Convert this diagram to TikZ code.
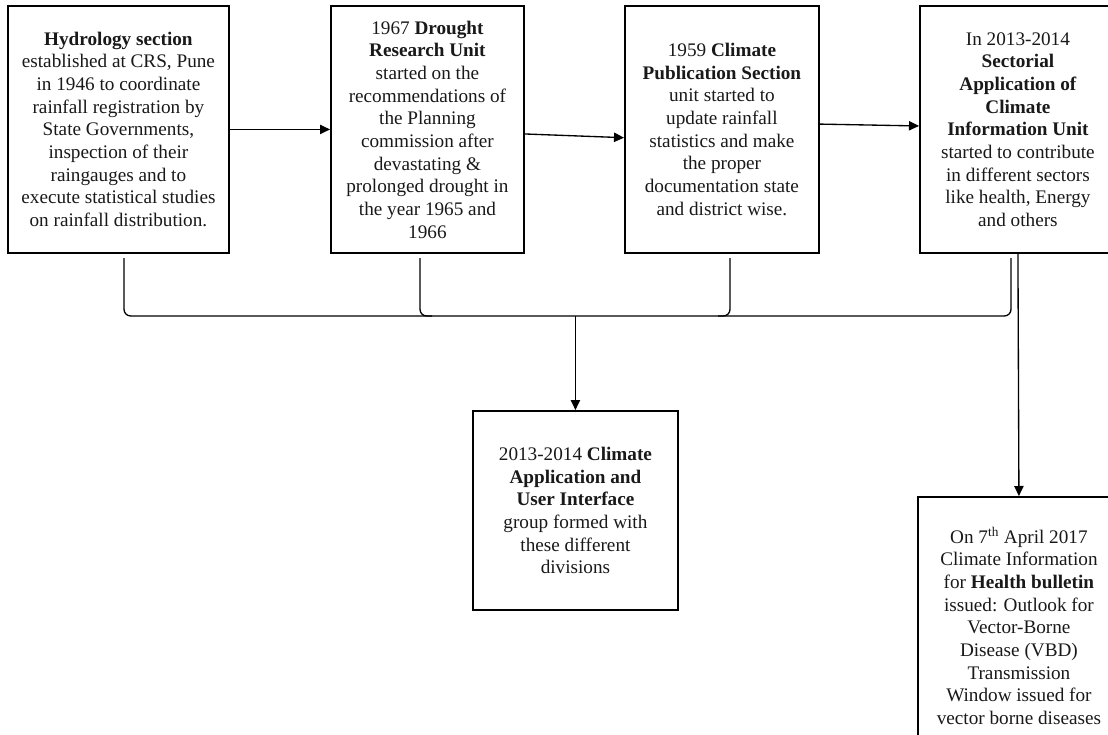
\documentclass[tikz,border=0pt]{standalone}
\usepackage{fontspec}
\setmainfont{Liberation Serif}
\usepackage{tikz}
\usetikzlibrary{arrows.meta}
\usetikzlibrary{calc}

\begin{document}
\begin{tikzpicture}[x=0.75pt, y=-0.75pt,
    unitbox/.style={draw, line width=1.4pt, align=center, inner sep=0pt, anchor=north west,
        font=\fontsize{14.4}{17}\selectfont, text=black!90},
    flowarrow/.style={line width=1pt, -{Triangle[length=7.5pt,width=7pt]}},
    bracketline/.style={line width=1pt, rounded corners=5pt}]
    \clip (0,0) rectangle (1108,735);
    \fill[white] (0,0) rectangle (1108,735);
    % top row of units
    \node[unitbox, minimum width=165.75pt, minimum height=185.25pt] (hydro) at (7,5)
        {\textbf{Hydrology section}\\ established at CRS, Pune\\ in 1946 to coordinate\\ rainfall registration by\\ State Governments,\\ inspection of their\\ raingauges and to\\ execute statistical studies\\ on rainfall distribution.};
    \node[unitbox, minimum width=144.75pt, minimum height=185.25pt] (drought) at (330,5)
        {1967 \textbf{Drought}\\ \textbf{Research Unit}\\ started on the\\ recommendations of\\ the Planning\\ commission after\\ devastating \&\\ prolonged drought in\\ the year 1965 and\\ 1966};
    \node[unitbox, minimum width=145.5pt, minimum height=185.25pt] (climpub) at (624,5)
        {1959 \textbf{Climate}\\ \textbf{Publication Section}\\ unit started to\\ update rainfall\\ statistics and make\\ the proper\\ documentation state\\ and district wise.};
    \node[unitbox, minimum width=147pt, minimum height=185.25pt] (sectorial) at (919,5)
        {In 2013-2014\\ \textbf{Sectorial}\\ \textbf{Application of}\\ \textbf{Climate}\\ \textbf{Information Unit}\\ started to contribute\\ in different sectors\\ like health, Energy\\ and others};
    % lower units
    \node[unitbox, minimum width=153.75pt, minimum height=149.25pt] (caui) at (472,410)
        {2013-2014 \textbf{Climate}\\ \textbf{Application and}\\ \textbf{User Interface}\\ group formed with\\ these different\\ divisions};
    \node[unitbox, minimum width=151.5pt, minimum height=193.5pt] (health) at (917,496)
        {On 7\textsuperscript{th} April 2017\\ Climate Information\\ for \textbf{Health bulletin}\\ issued: Outlook for\\ Vector-Borne\\ Disease (VBD)\\ Transmission\\ Window issued for\\ vector borne diseases};
    % arrows along the top row
    \draw[flowarrow] (hydro.east) -- (drought.west);
    \draw[flowarrow] ([yshift=-3.4pt]drought.east) -- ([yshift=-6.2pt]climpub.west);
    \draw[flowarrow] ([yshift=4pt]climpub.east) -- ([yshift=2.6pt]sectorial.west);
    % bracket joining the four units
    \foreach \name/\x in {ta/124,tb/420,tc/730,td/1011}
        \coordinate (\name) at (\x,258);
    \draw[bracketline] (ta) |- (td |- 0,316) -- (td);
    \draw[bracketline] (tb) |- (432,316);
    \draw[bracketline] (tc) |- (718,316);
    \coordinate (stem) at (caui.north |- 0,316);
    \draw[flowarrow] (stem) -- (caui.north);
    \draw[flowarrow] (sectorial.south) -- (health.north);
\end{tikzpicture}
\end{document}
